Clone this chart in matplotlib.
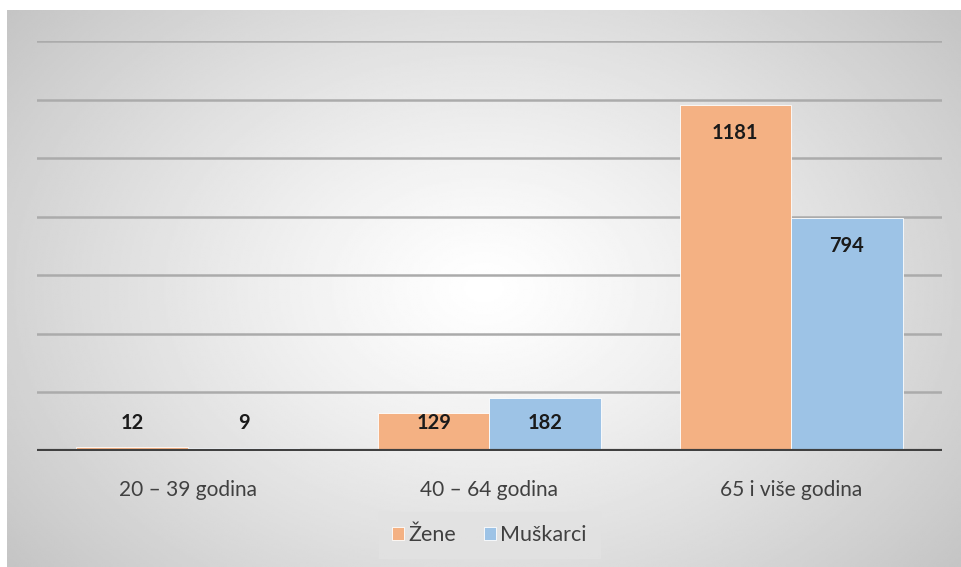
import numpy as np
import matplotlib.pyplot as plt

# data
categories = ["20 – 39 godina", "40 – 64 godina", "65 i više godina"]
zene = [12, 129, 1181]
muskarci = [9, 182, 794]
series_names = ["Žene", "Muškarci"]

c_zene = "#F4B183"
c_musk = "#9DC3E6"

plt.rcParams['font.family'] = ['Lato', 'DejaVu Sans']

W, H = 961, 567
fig = plt.figure(figsize=(W / 100, H / 100), dpi=100)
fig.patch.set_facecolor("white")

# radial gradient background of the chart area
bg = fig.add_axes([7 / W, 0, 1 - 7 / W, 1 - 10 / H])
bg.set_axis_off()
yy, xx = np.mgrid[-1:1:300j, -1:1:500j]
r = np.sqrt(xx ** 2 + (yy * 0.8) ** 2) / np.sqrt(1.64)
shade = 1.0 - 0.23 * np.clip(r, 0, 1) ** 1.2
bg.imshow(shade, cmap="gray", vmin=0, vmax=1, aspect="auto",
          extent=[0, 1, 0, 1], interpolation="bilinear")
bg.set_xlim(0, 1)
bg.set_ylim(0, 1)

# plot area
left, right, top, bottom = 37, 942, 41, 451
ax = fig.add_axes([left / W, 1 - bottom / H, (right - left) / W, (bottom - top) / H])
ax.patch.set_alpha(0)

x = np.arange(len(categories))
bw = 0.37
ax.bar(x - bw / 2, zene, bw, color=c_zene, label=series_names[0], zorder=3,
       edgecolor="white", linewidth=0.6)
ax.bar(x + bw / 2, muskarci, bw, color=c_musk, label=series_names[1], zorder=3,
       edgecolor="white", linewidth=0.6)

ax.set_xlim(-0.5, 2.5)
ax.set_ylim(0, 1400)
ax.set_yticks(np.arange(200, 1401, 200))
ax.yaxis.grid(True, color="#ababab", linewidth=1.8, zorder=0)
ax.axhline(0, color="#404040", linewidth=3, zorder=4)
ax.tick_params(axis="y", length=0, labelleft=False)
ax.tick_params(axis="x", length=0, pad=21, labelsize=15, labelcolor="#404040")
ax.set_xticks(x)
ax.set_xticklabels(categories)
for s in ax.spines.values():
    s.set_visible(False)

# value labels inside end
for vals, off in ((zene, -bw / 2), (muskarci, bw / 2)):
    for i, v in enumerate(vals):
        ypos = max(v - 95, 95)
        ax.text(i + off, ypos, str(v), ha="center", va="center",
                fontsize=14.5, fontweight="bold", color="#1a1a1a", zorder=5)

leg = ax.legend(loc="center", bbox_to_anchor=(0.5, (451 - 535) / (451 - 41)),
                ncol=2, frameon=True, fontsize=15.5, handlelength=0.55,
                handleheight=0.55, handletextpad=0.2, columnspacing=1.3,
                borderpad=0.3)
leg.get_frame().set_facecolor("#e2e2e2")
leg.get_frame().set_edgecolor("#e2e2e2")
leg.get_frame().set_boxstyle("square")
for t in leg.get_texts():
    t.set_color("#404040")

fig.savefig("out.png", dpi=100)
